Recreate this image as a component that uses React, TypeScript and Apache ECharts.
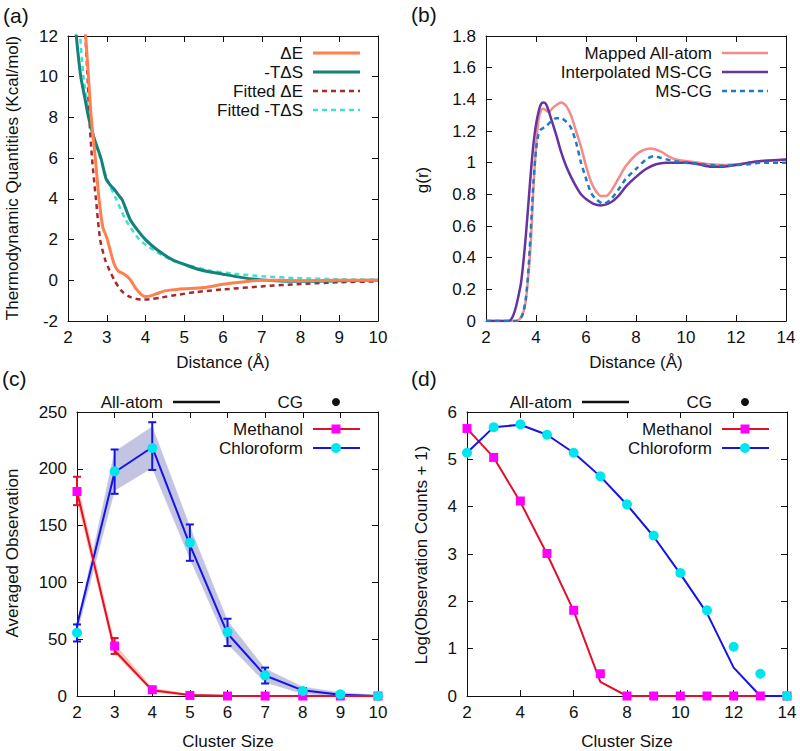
import React, { useEffect, useRef } from "react";
import * as echarts from "echarts";

const FONT = "'Liberation Sans', Arial, Helvetica, sans-serif";
const FS = 17;

// ---------- Panel (a): thermodynamic quantities vs distance ----------
const dE_x = [2.40, 2.50, 2.60, 2.70, 2.80, 2.90, 3.00, 3.10, 3.20, 3.30, 3.45, 3.60, 3.75, 3.90, 4.00, 4.10, 4.30, 4.50, 4.80, 5.00, 5.50, 6.00, 6.50, 7.00, 7.50, 8.00, 9.00, 10.00];
const dE_y = [13.5, 10.8, 8.0, 6.1, 4.0, 2.6, 2.1, 1.4, 0.75, 0.45, 0.3, 0.05, -0.4, -0.72, -0.8, -0.78, -0.65, -0.52, -0.45, -0.42, -0.36, -0.2, -0.08, 0.0, 0.0, -0.02, 0.0, 0.0];

const tds_x = [2.20, 2.25, 2.33, 2.43, 2.53, 2.67, 2.85, 2.98, 3.08, 3.20, 3.30, 3.40, 3.60, 3.80, 4.00, 4.30, 4.70, 5.00, 5.40, 6.00, 6.50, 7.00, 7.50, 8.00, 9.00, 10.00];
const tds_y = [12.3, 11.3, 10.0, 9.0, 8.0, 7.0, 6.0, 5.0, 4.7, 4.45, 4.2, 3.95, 3.0, 2.45, 2.0, 1.5, 1.0, 0.78, 0.52, 0.3, 0.13, 0.02, -0.04, -0.05, -0.02, 0.0];

const fitDE_x = [2.42, 2.50, 2.55, 2.62, 2.72, 2.83, 2.96, 3.07, 3.20, 3.37, 3.60, 3.90, 4.10, 4.40, 4.80, 5.30, 6.00, 7.00, 8.00, 9.00, 10.00];
const fitDE_y = [13.0, 10.2, 8.0, 6.0, 4.0, 2.0, 1.0, 0.5, 0.0, -0.5, -0.82, -0.95, -0.93, -0.85, -0.72, -0.58, -0.45, -0.3, -0.18, -0.1, -0.05];

const fitTDS_x = [2.30, 2.40, 2.55, 2.70, 2.85, 3.00, 3.24, 3.48, 3.84, 4.20, 4.66, 5.00, 5.60, 6.30, 7.00, 8.00, 9.00, 10.00];
const fitTDS_y = [12.3, 10.0, 8.0, 6.8, 5.9, 5.0, 4.0, 3.0, 2.0, 1.5, 1.0, 0.8, 0.5, 0.32, 0.2, 0.1, 0.05, 0.02];

// ---------- Panel (b): g(r) ----------
const aa_x = [2.0, 3.0, 3.3, 3.5, 3.6, 3.7, 3.8, 3.9, 4.0, 4.1, 4.2, 4.3, 4.5, 4.7, 5.0, 5.2, 5.4, 5.6, 5.8, 6.0, 6.2, 6.4, 6.6, 6.8, 7.0, 7.3, 7.6, 8.0, 8.3, 8.6, 9.0, 9.3, 9.6, 10.0, 10.5, 11.0, 11.5, 12.0, 12.5, 13.0, 13.5, 14.0];
const aa_y = [0, 0, 0.005, 0.06, 0.14, 0.3, 0.52, 0.85, 1.1, 1.27, 1.33, 1.34, 1.32, 1.35, 1.38, 1.36, 1.3, 1.2, 1.1, 0.98, 0.88, 0.82, 0.79, 0.79, 0.82, 0.9, 0.98, 1.05, 1.08, 1.09, 1.07, 1.04, 1.02, 1.01, 1.0, 0.99, 0.985, 0.99, 1.0, 1.01, 1.015, 1.02];

const imscg_x = [2.0, 2.9, 3.0, 3.1, 3.2, 3.3, 3.4, 3.5, 3.6, 3.7, 3.8, 3.9, 4.0, 4.1, 4.2, 4.3, 4.4, 4.5, 4.6, 4.8, 5.0, 5.2, 5.4, 5.6, 5.8, 6.0, 6.3, 6.6, 7.0, 7.3, 7.6, 8.0, 8.4, 8.8, 9.2, 10.0, 10.5, 11.0, 11.5, 12.0, 12.5, 13.0, 13.5, 14.0];
const imscg_y = [0, 0, 0.01, 0.04, 0.09, 0.16, 0.24, 0.38, 0.55, 0.75, 0.95, 1.12, 1.24, 1.32, 1.37, 1.38, 1.37, 1.33, 1.28, 1.18, 1.07, 0.98, 0.91, 0.85, 0.8, 0.77, 0.74, 0.73, 0.75, 0.79, 0.85, 0.91, 0.96, 0.99, 1.0, 1.0, 0.99, 0.975, 0.975, 0.985, 1.0, 1.01, 1.015, 1.02];

const mscg_x = [2.0, 3.2, 3.4, 3.5, 3.6, 3.7, 3.8, 3.9, 4.0, 4.1, 4.2, 4.4, 4.6, 4.8, 5.0, 5.2, 5.4, 5.6, 5.8, 6.0, 6.2, 6.4, 6.7, 7.0, 7.3, 7.6, 8.0, 8.4, 8.7, 9.0, 9.5, 10.0, 11.0, 11.5, 12.0, 12.5, 13.0, 14.0];
const mscg_y = [0, 0, 0.02, 0.06, 0.15, 0.33, 0.6, 0.88, 1.08, 1.18, 1.21, 1.23, 1.26, 1.28, 1.28, 1.26, 1.22, 1.13, 1.0, 0.9, 0.81, 0.77, 0.74, 0.77, 0.83, 0.9, 0.96, 1.02, 1.04, 1.03, 1.01, 1.0, 0.985, 0.98, 0.985, 0.99, 1.0, 1.0];

// ---------- Panel (c): averaged observation vs cluster size ----------
const c_sizes = [2, 3, 4, 5, 6, 7, 8, 9, 10];
const c_methCG = [180, 44, 5.5, 0.5, 0, 0, 0, 0, 0];
const c_methAA = [180, 40, 5, 0.8, 0.2, 0, 0, 0, 0];
const c_methBandLo = [172, 37, 3.5, 0, 0, 0, 0, 0, 0];
const c_methBandHi = [188, 46, 7, 1.5, 0.5, 0, 0, 0, 0];
const c_methErrX = [2, 3, 4];
const c_methErrLo = [168, 37, 3];
const c_methErrHi = [193, 51, 8];

const c_chlCG = [55.7, 197.8, 218.3, 135, 56.3, 18.2, 4.4, 1.5, 0];
const c_chlAA = [62, 197, 219, 133, 55, 18, 5, 1, 0];
const c_chlBandLo = [56, 181, 201, 121, 46, 12, 2, 0, 0];
const c_chlBandHi = [62, 215, 237, 149, 66, 24, 8, 3, 0.5];
const c_chlErrX = [2, 3, 4, 5, 6, 7, 8, 9];
const c_chlErrLo = [48, 178, 199, 119, 44, 11, 2, 0];
const c_chlErrHi = [63, 217, 241, 151, 68, 25, 7, 2];

// ---------- Panel (d): log(observation counts + 1) ----------
const d_sizes = [2, 3, 4, 5, 6, 7, 8, 9, 10, 11, 12, 13, 14];
const d_methCG = [5.65, 5.04, 4.12, 3.01, 1.81, 0.47, 0, 0, 0, 0, 0, 0, 0];
const d_methAA = [5.65, 5.04, 4.1, 3.0, 1.8, 0.3, 0, 0, 0, 0, 0, 0, 0];
const d_chlCG = [5.14, 5.68, 5.74, 5.52, 5.14, 4.64, 4.05, 3.39, 2.6, 1.81, 1.04, 0.47, 0];
const d_chlAA = [5.14, 5.68, 5.73, 5.52, 5.14, 4.64, 4.04, 3.37, 2.58, 1.75, 0.6, 0, 0];

const zip = (xs: number[], ys: number[]) => xs.map((x, i) => [x, ys[i]]);
const zip3 = (xs: number[], a: number[], b: number[]) => xs.map((x, i) => [x, a[i], b[i]]);

const C_DE = "#ff7f50";
const C_TDS = "#13837a";
const C_FDE = "#a52a2a";
const C_FTDS = "#40e0d0";
const C_AA = "#f38b8b";
const C_IMS = "#67349e";
const C_MS = "#1f7bc4";
const C_RED = "#e2102c";
const C_MAG = "#ff00ff";
const C_BLUE = "#1414e6";
const C_CYAN = "#00e6ef";
const C_BAND_CHL = "#c3c3e2";
const C_BAND_METH = "#f9c6b0";

type GridDef = { left: number; top: number; width: number; height: number; x: [number, number, number]; y: [number, number, number] };

const GRIDS: GridDef[] = [
  { left: 68, top: 36, width: 310, height: 285, x: [2, 10, 1], y: [-2, 12, 2] },
  { left: 486, top: 36, width: 300, height: 285, x: [2, 14, 2], y: [0, 1.8, 0.2] },
  { left: 77, top: 412, width: 301, height: 284, x: [2, 10, 1], y: [0, 250, 50] },
  { left: 467, top: 412, width: 320, height: 284, x: [2, 14, 2], y: [0, 6, 1] },
];

function buildAxes() {
  const xAxis: any[] = [];
  const yAxis: any[] = [];
  GRIDS.forEach((g, gi) => {
    const line = { show: true, onZero: false, lineStyle: { color: "#111", width: 1 } };
    const tick = { show: true, inside: true, length: 6, lineStyle: { color: "#111", width: 1 } };
    const lbl = { show: true, color: "#111", fontSize: FS, fontFamily: FONT, margin: 8 };
    ["bottom", "top"].forEach((pos, k) => {
      xAxis.push({
        type: "value", gridIndex: gi, position: pos, min: g.x[0], max: g.x[1], interval: g.x[2],
        axisLine: line, axisTick: tick, splitLine: { show: false },
        axisLabel: k === 0 ? lbl : { show: false },
      });
    });
    ["left", "right"].forEach((pos, k) => {
      yAxis.push({
        type: "value", gridIndex: gi, position: pos, min: g.y[0], max: g.y[1], interval: g.y[2],
        axisLine: line, axisTick: tick, splitLine: { show: false },
        axisLabel: k === 0 ? { ...lbl, margin: 10 } : { show: false },
      });
    });
  });
  return { xAxis, yAxis };
}

function lineSeries(gi: number, data: number[][], color: string, width: number, dashed = false, z = 3) {
  return {
    type: "line", xAxisIndex: gi * 2, yAxisIndex: gi * 2, data, showSymbol: false, symbol: "none",
    smooth: 0.25, clip: true, z,
    lineStyle: { color, width, type: dashed ? [5, 4] : "solid" },
  };
}

function straightLine(gi: number, data: number[][], color: string, width: number, z = 3) {
  return {
    type: "line", xAxisIndex: gi * 2, yAxisIndex: gi * 2, data, showSymbol: false, symbol: "none",
    clip: true, z, lineStyle: { color, width },
  };
}

function scatter(gi: number, data: number[][], color: string, symbol: string, size: number, z = 5) {
  return {
    type: "scatter", xAxisIndex: gi * 2, yAxisIndex: gi * 2, data, symbol, symbolSize: size, z,
    itemStyle: { color, opacity: 1 }, clip: false,
  };
}

function band(gi: number, data: number[][], color: string) {
  return {
    type: "custom", xAxisIndex: gi * 2, yAxisIndex: gi * 2, data, z: 1,
    encode: { x: 0, y: [1, 2] },
    renderItem: (params: any, api: any) => {
      if (params.dataIndexInside !== 0) return { type: "group", children: [] };
      const n = params.dataInsideLength;
      const upper: number[][] = [];
      const lower: number[][] = [];
      for (let j = 0; j < n; j++) {
        const x = api.value(0, j);
        lower.push(api.coord([x, api.value(1, j)]));
        upper.push(api.coord([x, api.value(2, j)]));
      }
      const pts = lower.concat(upper.reverse());
      return { type: "polygon", shape: { points: pts }, style: { fill: color, stroke: color, lineWidth: 0.5 } };
    },
  };
}

function errorBars(gi: number, data: number[][], color: string) {
  return {
    type: "custom", xAxisIndex: gi * 2, yAxisIndex: gi * 2, data, z: 4,
    encode: { x: 0, y: [1, 2] },
    renderItem: (_params: any, api: any) => {
      const x = api.value(0);
      const lo = api.coord([x, api.value(1)]);
      const hi = api.coord([x, api.value(2)]);
      const w = 4;
      const st = { stroke: color, lineWidth: 2 };
      return {
        type: "group",
        children: [
          { type: "line", shape: { x1: lo[0], y1: lo[1], x2: hi[0], y2: hi[1] }, style: st },
          { type: "line", shape: { x1: lo[0] - w, y1: lo[1], x2: lo[0] + w, y2: lo[1] }, style: st },
          { type: "line", shape: { x1: hi[0] - w, y1: hi[1], x2: hi[0] + w, y2: hi[1] }, style: st },
        ],
      };
    },
  };
}

function txt(text: string, x: number, y: number, align = "right", size = FS, rotation = 0) {
  return {
    type: "text", x, y, rotation, z: 100,
    style: {
      text, fill: "#111", font: `${size}px ${FONT}`,
      textAlign: align, textVerticalAlign: "middle", align, verticalAlign: "middle",
    },
  };
}

function seg(x1: number, x2: number, y: number, color: string, width: number, dashed = false) {
  return {
    type: "line", z: 100, shape: { x1, y1: y, x2, y2: y },
    style: { stroke: color, lineWidth: width, lineDash: dashed ? [5, 4] : null },
  };
}

function buildGraphics() {
  const g: any[] = [];
  // panel labels
  g.push(txt("(a)", 3, 15, "left", 21));
  g.push(txt("(b)", 411, 14, "left", 21));
  g.push(txt("(c)", 2, 378, "left", 21));
  g.push(txt("(d)", 411, 378, "left", 21));
  // axis names
  g.push(txt("Distance (Å)", 223, 362, "center"));
  g.push(txt("Distance (Å)", 636, 362, "center"));
  g.push(txt("Cluster Size", 228, 741, "center"));
  g.push(txt("Cluster Size", 627, 741, "center"));
  g.push(txt("Thermodynamic Quantities (Kcal/mol)", 12, 178, "center", FS, Math.PI / 2));
  g.push(txt("g(r)", 422, 180, "center", FS, Math.PI / 2));
  g.push(txt("Averaged Observation", 12, 553, "center", FS, Math.PI / 2));
  g.push(txt("Log(Observation Counts + 1)", 421, 555, "center", FS, Math.PI / 2));

  // legend (a)
  const la = [
    ["ΔE", C_DE, false, 3],
    ["-TΔS", C_TDS, false, 3],
    ["Fitted ΔE", C_FDE, true, 2.5],
    ["Fitted -TΔS", C_FTDS, true, 2.5],
  ] as const;
  la.forEach((it, i) => {
    const y = 53 + i * 19;
    g.push(txt(it[0], 303, y));
    g.push(seg(313, 360, y, it[1], it[3], it[2]));
  });
  // legend (b)
  const lb = [
    ["Mapped All-atom", C_AA, false],
    ["Interpolated MS-CG", C_IMS, false],
    ["MS-CG", C_MS, true],
  ] as const;
  lb.forEach((it, i) => {
    const y = 53 + i * 19;
    g.push(txt(it[0], 712, y));
    g.push(seg(722, 768, y, it[1], 2.5, it[2]));
  });

  // top legends for (c) and (d)
  const tops = [
    { aaEnd: 163, l1: 173, l2: 220, cgEnd: 303, dot: 336, textEnd: 303, s1: 313, s2: 360, mk: 336 },
    { aaEnd: 572, l1: 582, l2: 629, cgEnd: 712, dot: 745, textEnd: 712, s1: 722, s2: 769, mk: 745 },
  ];
  tops.forEach((t) => {
    g.push(txt("All-atom", t.aaEnd, 402));
    g.push(seg(t.l1, t.l2, 402, "#111", 2.5));
    g.push(txt("CG", t.cgEnd, 402));
    g.push({ type: "circle", z: 100, shape: { cx: t.dot, cy: 402, r: 4 }, style: { fill: "#111" } });
    g.push(txt("Methanol", t.textEnd, 429));
    g.push(seg(t.s1, t.s2, 429, C_RED, 2));
    g.push({ type: "rect", z: 101, shape: { x: t.mk - 4.5, y: 429 - 4.5, width: 9, height: 9 }, style: { fill: C_MAG } });
    g.push(txt("Chloroform", t.textEnd, 448));
    g.push(seg(t.s1, t.s2, 448, C_BLUE, 2));
    g.push({ type: "circle", z: 101, shape: { cx: t.mk, cy: 448, r: 5 }, style: { fill: C_CYAN } });
  });
  return g;
}

export default function App() {
  const ref = useRef<HTMLDivElement>(null);
  useEffect(() => {
    document.body.style.margin = "0";
    if (!ref.current) return;
    const chart = echarts.init(ref.current, undefined, { renderer: "svg" });
    const { xAxis, yAxis } = buildAxes();
    const series: any[] = [
      // (a)
      lineSeries(0, zip(fitTDS_x, fitTDS_y), C_FTDS, 2.5, true, 2),
      lineSeries(0, zip(fitDE_x, fitDE_y), C_FDE, 2.5, true, 2),
      lineSeries(0, zip(tds_x, tds_y), C_TDS, 3, false, 3),
      lineSeries(0, zip(dE_x, dE_y), C_DE, 3, false, 3),
      // (b)
      lineSeries(1, zip(aa_x, aa_y), C_AA, 2.5, false, 2),
      lineSeries(1, zip(imscg_x, imscg_y), C_IMS, 2.5, false, 3),
      lineSeries(1, zip(mscg_x, mscg_y), C_MS, 2.5, true, 4),
      // (c)
      band(2, zip3(c_sizes, c_chlBandLo, c_chlBandHi), C_BAND_CHL),
      band(2, zip3(c_sizes, c_methBandLo, c_methBandHi), C_BAND_METH),
      straightLine(2, zip(c_sizes, c_chlAA), C_BLUE, 2),
      straightLine(2, zip(c_sizes, c_methAA), C_RED, 2),
      errorBars(2, zip3(c_chlErrX, c_chlErrLo, c_chlErrHi), C_BLUE),
      errorBars(2, zip3(c_methErrX, c_methErrLo, c_methErrHi), C_RED),
      scatter(2, zip(c_sizes, c_methCG), C_MAG, "rect", 9, 5),
      scatter(2, zip(c_sizes, c_chlCG), C_CYAN, "circle", 10, 6),
      // (d)
      straightLine(3, zip(d_sizes, d_methAA), C_RED, 2),
      straightLine(3, zip(d_sizes, d_chlAA), C_BLUE, 2),
      scatter(3, zip(d_sizes, d_methCG), C_MAG, "rect", 9, 5),
      scatter(3, zip(d_sizes, d_chlCG), C_CYAN, "circle", 10, 6),
    ];
    chart.setOption({
      animation: false,
      backgroundColor: "#ffffff",
      textStyle: { fontFamily: FONT },
      grid: GRIDS.map((g) => ({ left: g.left, top: g.top, width: g.width, height: g.height, containLabel: false })),
      xAxis,
      yAxis,
      series,
      graphic: { elements: buildGraphics() },
    });
    return () => chart.dispose();
  }, []);
  return <div ref={ref} style={{ width: 800, height: 751 }} />;
}
